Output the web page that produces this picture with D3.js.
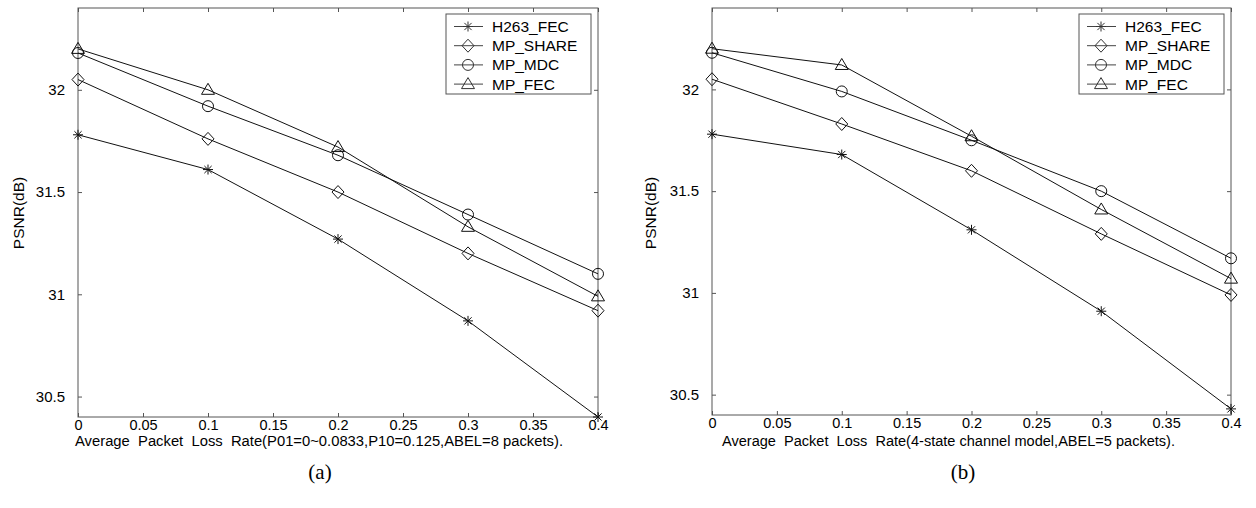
<!DOCTYPE html>
<html lang="en">
<head>
<meta charset="UTF-8">
<title>PSNR vs packet loss</title>
<script src="https://cdn.jsdelivr.net/npm/d3@7"></script>
<style>
    body {
        margin: 0;
        background: #fff;
    }
    svg text {
        font-family: "Liberation Sans", Arial, sans-serif;
        fill: #000;
    }
    .caption {
        font-family: "Liberation Serif", "Times New Roman", serif !important;
    }
</style>
</head>
<body>
<svg id="chart" width="1256" height="508"></svg>
<script>
// shared x values and tick labels
const lossRates = [0, 0.1, 0.2, 0.3, 0.4];
const xTicks = [0, 0.05, 0.1, 0.15, 0.2, 0.25, 0.3, 0.35, 0.4];
const yTicks = [30.5, 31, 31.5, 32];
const seriesNames = ["H263_FEC", "MP_SHARE", "MP_MDC", "MP_FEC"];

// panel (a): Gilbert model
const h263A  = [31.78, 31.61, 31.27, 30.87, 30.40];
const shareA = [32.05, 31.76, 31.50, 31.20, 30.92];
const mdcA   = [32.18, 31.92, 31.68, 31.39, 31.10];
const fecA   = [32.20, 32.00, 31.72, 31.33, 30.99];

// panel (b): 4-state channel model
const h263B  = [31.78, 31.68, 31.31, 30.91, 30.43];
const shareB = [32.05, 31.83, 31.60, 31.29, 30.99];
const mdcB   = [32.18, 31.99, 31.75, 31.50, 31.17];
const fecB   = [32.20, 32.12, 31.77, 31.41, 31.07];

const svg = d3.select("#chart");

// marker shapes, centred on 0,0
const markerPath = {
    "H263_FEC": "M-5,0H5M0,-5V5M-3.6,-3.6L3.6,3.6M-3.6,3.6L3.6,-3.6",
    "MP_SHARE": "M0,-6.5L6,0L0,6.5L-6,0Z",
    "MP_MDC": "M5.5,0A5.5,5.5 0 1,1 -5.5,0A5.5,5.5 0 1,1 5.5,0Z",
    "MP_FEC": "M0,-6.5L6.5,4.5L-6.5,4.5Z"
};

const panels = [
    {
        series: [h263A, shareA, mdcA, fecA],
        left: 78, right: 598, top: 8, bottom: 417,
        xLabel: "Average  Packet  Loss  Rate(P01=0~0.0833,P10=0.125,ABEL=8 packets).",
        xLabelX: 75, xLabelW: 488,
        yLabelX: 24,
        caption: "(a)", captionX: 320
    },
    {
        series: [h263B, shareB, mdcB, fecB],
        left: 712, right: 1231, top: 8, bottom: 415,
        xLabel: "Average  Packet  Loss  Rate(4-state channel model,ABEL=5 packets).",
        xLabelX: 722, xLabelW: 453,
        yLabelX: 656,
        caption: "(b)", captionX: 963
    }
];

panels.forEach(p => {
    const x = d3.scaleLinear().domain([0, 0.4]).range([p.left, p.right]);
    const y = d3.scaleLinear().domain([30.4, 32.4]).range([p.bottom, p.top]);
    const g = svg.append("g");

    // axes with inward ticks, MATLAB style box
    const bottomAxis = g.append("g")
        .attr("transform", `translate(0,${p.bottom})`)
        .call(d3.axisBottom(x).tickValues(xTicks).tickSizeInner(-4).tickSizeOuter(0)
            .tickPadding(3).tickFormat(d3.format("~g")));
    const topAxis = g.append("g")
        .attr("transform", `translate(0,${p.top})`)
        .call(d3.axisTop(x).tickValues(xTicks).tickSizeInner(-4).tickSizeOuter(0).tickFormat(""));
    const leftAxis = g.append("g")
        .attr("transform", `translate(${p.left},0)`)
        .call(d3.axisLeft(y).tickValues(yTicks).tickSizeInner(-4).tickSizeOuter(0)
            .tickPadding(13).tickFormat(d3.format("~g")));
    const rightAxis = g.append("g")
        .attr("transform", `translate(${p.right},0)`)
        .call(d3.axisRight(y).tickValues(yTicks).tickSizeInner(-4).tickSizeOuter(0).tickFormat(""));

    [bottomAxis, topAxis, leftAxis, rightAxis].forEach(a => {
        a.select(".domain").remove();
        a.selectAll(".tick line").attr("stroke", "#555");
        a.selectAll(".tick text").attr("font-size", 15).attr("fill", "#000")
            .style("font-family", "'Liberation Sans', Arial, sans-serif");
    });
    bottomAxis.selectAll(".tick text").attr("font-size", 14.5);

    g.append("rect")
        .attr("x", p.left).attr("y", p.top)
        .attr("width", p.right - p.left).attr("height", p.bottom - p.top)
        .attr("fill", "none").attr("stroke", "#555").attr("stroke-width", 1);

    // lines and markers
    const line = d3.line().x((d, i) => x(lossRates[i])).y(d => y(d));
    p.series.forEach((vals, si) => {
        g.append("path")
            .datum(vals)
            .attr("d", line)
            .attr("fill", "none")
            .attr("stroke", "#111")
            .attr("stroke-width", 1);
        g.selectAll(null)
            .data(vals)
            .enter().append("path")
            .attr("transform", (d, i) => `translate(${x(lossRates[i])},${y(d)})`)
            .attr("d", markerPath[seriesNames[si]])
            .attr("fill", "none")
            .attr("stroke", "#111")
            .attr("stroke-width", 1);
    });

    // legend box in top right corner
    const lgW = 145, lgH = 80;
    const lgX = p.right - 7 - lgW, lgY = p.top + 6;
    const lg = g.append("g").attr("transform", `translate(${lgX},${lgY})`);
    lg.append("rect")
        .attr("width", lgW).attr("height", lgH)
        .attr("fill", "#fff").attr("stroke", "#555");
    seriesNames.forEach((name, i) => {
        const cy = 12.5 + i * 19.2;
        lg.append("line")
            .attr("x1", 8).attr("x2", 37).attr("y1", cy).attr("y2", cy)
            .attr("stroke", "#444");
        lg.append("path")
            .attr("transform", `translate(22,${cy})`)
            .attr("d", markerPath[name])
            .attr("fill", "none").attr("stroke", "#333");
        lg.append("text")
            .attr("x", 46).attr("y", cy + 5.5)
            .attr("font-size", 15.5)
            .text(name);
    });

    // axis titles
    g.append("text")
        .attr("x", p.xLabelX).attr("y", 446)
        .attr("font-size", 14)
        .attr("textLength", p.xLabelW)
        .attr("lengthAdjust", "spacingAndGlyphs")
        .style("white-space", "pre")
        .text(p.xLabel);
    g.append("text")
        .attr("transform", `translate(${p.yLabelX},213) rotate(-90)`)
        .attr("text-anchor", "middle")
        .attr("font-size", 15.5)
        .text("PSNR(dB)");
    g.append("text")
        .attr("class", "caption")
        .attr("x", p.captionX).attr("y", 479)
        .attr("text-anchor", "middle")
        .attr("font-size", 21)
        .text(p.caption);
});
</script>
</body>
</html>
